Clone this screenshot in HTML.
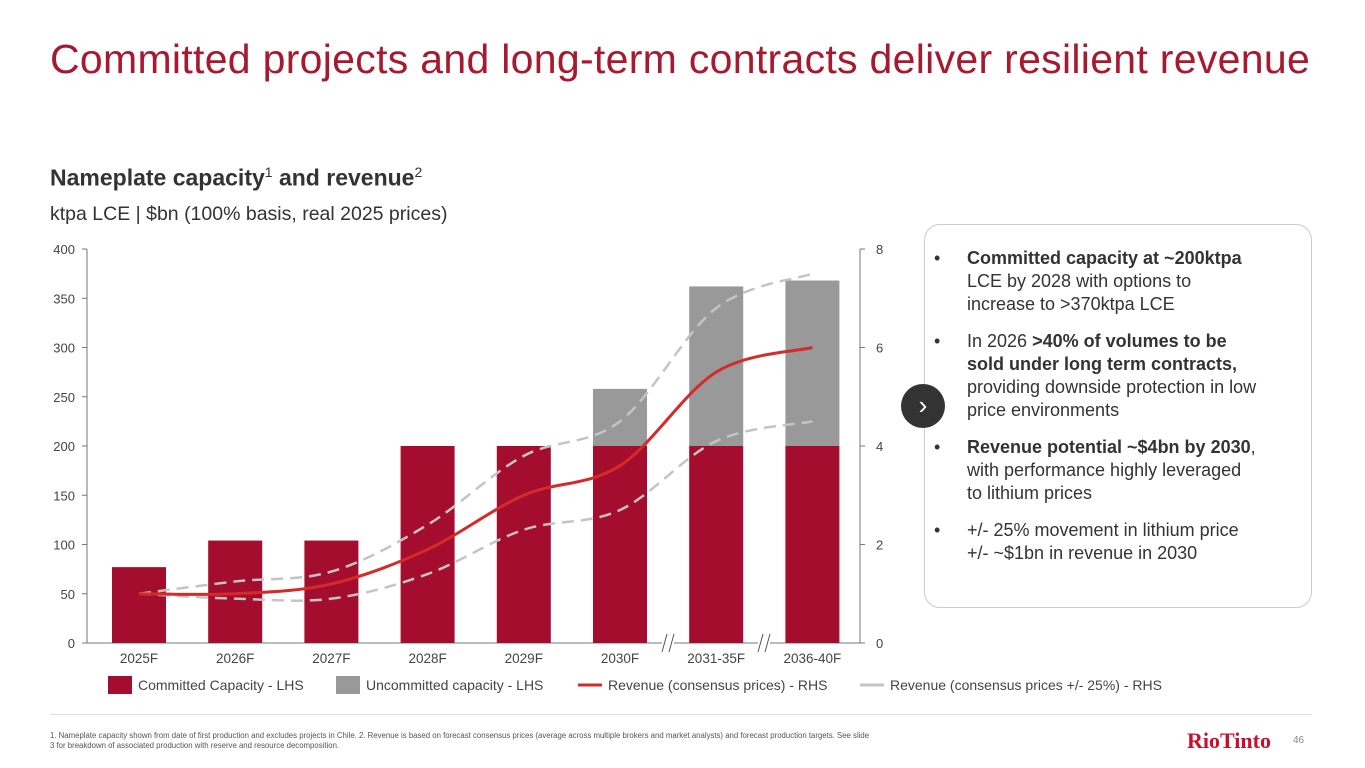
<!DOCTYPE html>
<html><head><meta charset="utf-8"><style>
body{margin:0;width:1365px;height:768px;background:#fff;font-family:"Liberation Sans",sans-serif;position:relative;overflow:hidden;color:#333}
.abs{position:absolute}
.b{position:relative;padding-left:33px;margin-bottom:14px}
.b:before{content:"•";position:absolute;left:0;top:0}
</style></head><body>
<div class="abs" style="left:50px;top:36px;font-size:41px;color:#a6192e;white-space:nowrap;letter-spacing:0.3px">Committed projects and long-term contracts deliver resilient revenue</div>
<div class="abs" style="left:50px;top:164px;font-size:23px;font-weight:bold;color:#333;white-space:nowrap">Nameplate capacity<sup style="font-size:14px;font-weight:normal">1</sup> and revenue<sup style="font-size:14px;font-weight:normal">2</sup></div>
<div class="abs" style="left:50px;top:203px;font-size:19.5px;color:#333;white-space:nowrap">ktpa LCE | $bn (100% basis, real 2025 prices)</div>

<svg class="abs" style="left:0;top:0" width="1365" height="768">
<g id="g"></g>
</svg>

<div class="abs" style="left:924px;top:224px;width:388px;height:384px;border:1px solid #ccc;border-radius:16px;box-sizing:border-box"></div>
<div class="abs" style="left:901px;top:384px;width:44px;height:44px;border-radius:50%;background:#333;color:#fff;font-size:26px;text-align:center;line-height:42px">&#x203A;</div>
<div class="abs" style="left:934px;top:247px;width:325px;font-size:18px;line-height:23px;color:#333">
<div class="b"><b>Committed capacity at ~200ktpa</b> LCE by 2028 with options to increase to &gt;370ktpa LCE</div>
<div class="b">In 2026 <b>&gt;40% of volumes to be sold under long term contracts,</b> providing downside protection in low price environments</div>
<div class="b"><b>Revenue potential ~$4bn by 2030</b>, with performance highly leveraged to lithium prices</div>
<div class="b">+/- 25% movement in lithium price +/- ~$1bn in revenue in 2030</div>
</div>
<div class="abs" style="left:50px;top:714px;width:1262px;height:1px;background:#ddd"></div>
<div class="abs" style="left:50px;top:731px;width:820px;font-size:7.8px;line-height:10px;color:#555">1. Nameplate capacity shown from date of first production and excludes projects in Chile. 2. Revenue is based on forecast consensus prices (average across multiple brokers and market analysts) and forecast production targets. See slide 3 for breakdown of associated production with reserve and resource decomposition.</div>
<div class="abs" style="left:1187px;top:728px;font-family:'Liberation Serif',serif;font-size:22px;font-weight:bold;color:#c8102e">RioTinto</div>
<div class="abs" style="left:1293px;top:735px;font-size:10px;color:#888">46</div>

<script>
const categories=["2025F","2026F","2027F","2028F","2029F","2030F","2031-35F","2036-40F"];
const committed=[77,104,104,200,200,200,200,200];
const uncommitted=[0,0,0,0,0,58,162,168];
const revenue=[1.0,1.0,1.2,1.9,3.0,3.6,5.5,6.0];
const revenueHigh=[1.0,1.25,1.45,2.4,3.8,4.5,6.8,7.5];
const revenueLow=[1.0,0.9,0.9,1.4,2.3,2.7,4.1,4.5];
const leftTicks=[0,50,100,150,200,250,300,350,400];
const rightTicks=[0,2,4,6,8];

const NS="http://www.w3.org/2000/svg";
const g=document.getElementById('g');
const y0=643,yTop=249;
const yL=v=>y0-(v/400)*(y0-yTop);
const yR=v=>y0-(v/8)*(y0-yTop);
const xC=i=>139+i*96.2;
const bw=54;
function el(t,a,txt){const e=document.createElementNS(NS,t);for(const k in a)e.setAttribute(k,a[k]);if(txt!==undefined)e.textContent=txt;g.appendChild(e);return e;}

let e=el('line',{x1:87,y1:yTop,x2:87,y2:y0,stroke:'#777'});

e=el('line',{x1:860,y1:yTop,x2:860,y2:y0,stroke:'#777'});

e=el('line',{x1:87,y1:y0,x2:860,y2:y0,stroke:'#777'});

leftTicks.forEach(v=>{
  el('line',{x1:82,x2:87,y1:yL(v),y2:yL(v),stroke:'#777'});
  e=el('text',{x:75,y:yL(v)+5,'text-anchor':'end','font-size':13,fill:'#444'},v);
  
});
rightTicks.forEach(v=>{
  el('line',{x1:860,x2:865,y1:yR(v),y2:yR(v),stroke:'#777'});
  e=el('text',{x:876,y:yR(v)+5,'font-size':13,fill:'#444'},v);
  
});
categories.forEach((c,i)=>{
  e=el('rect',{x:xC(i)-bw/2,y:yL(committed[i]),width:bw,height:y0-yL(committed[i]),fill:'#a50d2f'});
  
  if(uncommitted[i]>0){
    const top=committed[i]+uncommitted[i];
    e=el('rect',{x:xC(i)-bw/2,y:yL(top),width:bw,height:yL(committed[i])-yL(top),fill:'#999'});
    
  }
  e=el('text',{x:xC(i),y:663,'text-anchor':'middle','font-size':13.5,fill:'#444'},c);
  
});
[668,764].forEach(x=>{
  el('rect',{x:x-6,y:634,width:12,height:18,fill:'#fff'});
  el('line',{x1:x-6,y1:652,x2:x-1,y2:634,stroke:'#555'});
  el('line',{x1:x+1,y1:652,x2:x+6,y2:634,stroke:'#555'});
});
function path(vals){
  const p=vals.map((v,i)=>[xC(i),yR(v)]);
  let d='M'+p[0][0]+','+p[0][1];
  for(let i=0;i<p.length-1;i++){
    const p0=p[i-1]||p[i],p1=p[i],p2=p[i+1],p3=p[i+2]||p2;
    const c1=[p1[0]+(p2[0]-p0[0])/6,p1[1]+(p2[1]-p0[1])/6];
    const c2=[p2[0]-(p3[0]-p1[0])/6,p2[1]-(p3[1]-p1[1])/6];
    d+=` C${c1[0]},${c1[1]} ${c2[0]},${c2[1]} ${p2[0]},${p2[1]}`;
  }
  return d;
}
e=el('path',{d:path(revenueHigh),fill:'none',stroke:'#c4c4c4','stroke-width':2.5,'stroke-dasharray':'12,7'});

e=el('path',{d:path(revenueLow),fill:'none',stroke:'#c4c4c4','stroke-width':2.5,'stroke-dasharray':'12,7'});

e=el('path',{d:path(revenue),fill:'none',stroke:'#d42a2a','stroke-width':3});


const L=[[108,'rect','#a50d2f','Committed Capacity - LHS'],[336,'rect','#999','Uncommitted capacity - LHS'],[578,'line','#d42a2a','Revenue (consensus prices) - RHS'],[860,'line','#c4c4c4','Revenue (consensus prices +/- 25%) - RHS']];
L.forEach(([x,t,c,txt])=>{
  if(t==='rect') el('rect',{x:x,y:676,width:24,height:18,fill:c});
  else el('line',{x1:x,x2:x+24,y1:685,y2:685,stroke:c,'stroke-width':3});
  e=el('text',{x:x+30,y:690,'font-size':14,fill:'#444'},txt);
  
});
</script>
</body></html>
